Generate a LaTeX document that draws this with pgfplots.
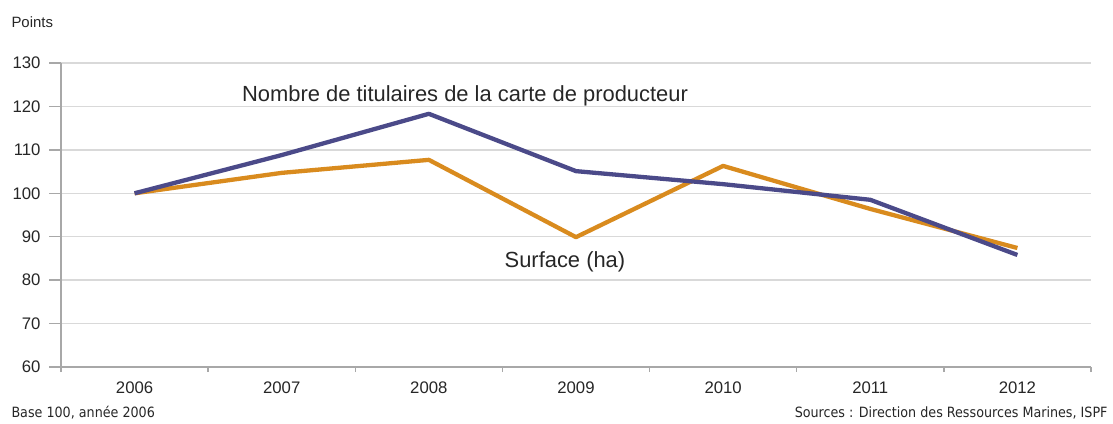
\documentclass[border=0pt]{standalone}
\usepackage{fontspec}
\setmainfont{Liberation Sans}
\newfontfamily\footfont{DejaVu Sans Condensed}
\usepackage{pgfplots}
\pgfplotsset{compat=1.18}
\definecolor{navy}{HTML}{4B4A89}
\definecolor{ochre}{HTML}{D98B1E}
\definecolor{axgray}{HTML}{A8A8A8}
\definecolor{grgray}{HTML}{D9D9D9}
\definecolor{txt}{HTML}{262626}
\begin{document}
\begin{tikzpicture}[x=1bp,y=1bp]
\path[use as bounding box] (-61,-56) rectangle (1052,367);
\begin{axis}[
  at={(0,0)}, anchor=south west,
  scale only axis, width=1030bp, height=304bp,
  xmin=-0.5, xmax=6.5, ymin=60, ymax=130,
  clip=false,
  axis x line*=bottom, axis y line*=left,
  axis line style={draw=axgray, line width=2.5bp, -},
  xtick={-0.5,0.5,...,6.5},
  x tick label as interval,
  xticklabels={2006,2007,2008,2009,2010,2011,2012},
  ytick={60,70,...,130},
  tick align=outside,
  major tick length=5bp,
  xtick style={draw=axgray, line width=1.5bp},
  ytick style={draw=none},
  ymajorgrids,
  major grid style={draw=grgray, line width=1.3bp},
  ticklabel style={font=\fontsize{16.8}{20}\selectfont, text=txt},
  /pgf/number format/assume math mode=true,
  yticklabel style={xshift=-12bp},
  xticklabel style={yshift=-6bp},
]
\pgfplotsinvokeforeach{60,70,...,130}{
  \draw[axgray, line width=1.5bp] (axis cs:-0.5,#1) -- ([xshift=-12bp]axis cs:-0.5,#1);
}
\addplot[ochre, line width=4.3bp, line join=round] coordinates {
  (0,100) (1,104.7) (2,107.7) (3,89.9) (4,106.3) (5,96.4) (6,87.4)
};
\addplot[navy, line width=4.3bp, line join=round] coordinates {
  (0,100) (1,108.8) (2,118.3) (3,105.1) (4,102.1) (5,98.5) (6,85.8)
};
\node[font=\fontsize{22}{26}\selectfont, text=txt] at (axis cs:2.246,122.4) {Nombre de titulaires de la carte de producteur};
\node[font=\fontsize{22}{26}\selectfont, text=txt] at (axis cs:2.925,84.2) {Surface (ha)};
\end{axis}
\node[anchor=west, font=\fontsize{15}{18}\selectfont, text=txt] at (-53,345) {Points};
\node[anchor=west, font=\footfont\fontsize{14.2}{16}\selectfont, text=txt] at (-53,-46) {Base 100, année 2006};
\node[anchor=east, font=\footfont\fontsize{14.2}{16}\selectfont, text=txt] at (1050,-46) {Sources : Direction des Ressources Marines, ISPF};
\end{tikzpicture}
\end{document}
